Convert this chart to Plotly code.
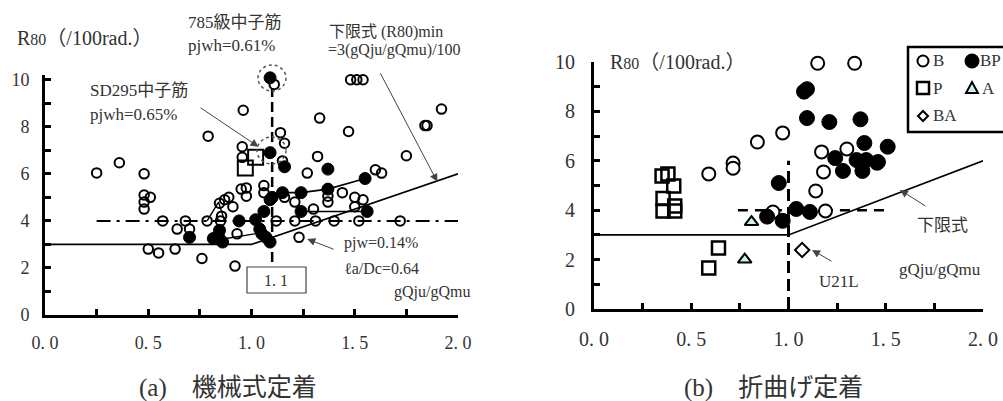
import plotly.graph_objects as go

W, H = 1003, 401
FONT = "Liberation Serif, Noto Sans CJK JP, serif"
TXT = "#333333"

# ---------------- data: (a) 機械式定着 ----------------
a_open_x = [0.25, 0.36, 0.48, 0.48, 0.48, 0.48, 0.51, 0.57, 0.50, 0.55, 0.63, 0.64, 0.68, 0.70,
            0.76, 0.785, 0.79, 0.845, 0.87, 0.89, 0.91, 0.855, 0.85, 0.95, 0.975, 0.975,
            0.92, 0.93, 0.96, 0.955, 0.955, 1.06, 1.06, 1.11, 1.12, 1.14, 1.16, 1.15, 1.16, 1.21,
            1.21, 1.23, 1.27, 1.31, 1.30, 1.32, 1.33, 1.37, 1.37, 1.40, 1.44, 1.47, 1.48, 1.51,
            1.54, 1.50, 1.54, 1.50, 1.52, 1.60, 1.63, 1.72, 1.75, 1.84, 1.85, 1.92, 2.01]
a_open_y = [6.04, 6.47, 6.00, 5.10, 4.80, 4.50, 5.00, 4.00, 2.80, 2.64, 2.80, 3.65, 4.00, 3.65,
            2.40, 4.00, 7.60, 4.75, 4.90, 5.00, 4.60, 4.20, 4.00, 5.35, 5.40, 5.05,
            2.08, 3.45, 8.70, 7.15, 6.70, 5.50, 5.20, 9.80, 4.00, 7.75, 7.30, 6.55, 5.00, 4.00,
            4.80, 3.30, 6.03, 4.00, 4.50, 6.74, 8.37, 5.05, 4.80, 4.00, 5.20, 7.80, 10.0, 10.0,
            10.0, 5.00, 4.90, 4.60, 4.00, 6.17, 6.03, 4.00, 6.77, 8.05, 8.05, 8.75, 5.00]
a_fill_x = [0.70, 0.815, 0.845, 0.86, 0.84, 0.94, 1.02, 1.04, 1.06, 1.09, 1.07, 1.09, 1.05, 1.10,
            1.15, 1.24, 1.37, 1.55, 1.37, 1.16, 1.09, 1.09, 1.24, 1.56]
a_fill_y = [3.30, 3.25, 3.60, 3.10, 3.35, 4.00, 4.05, 3.65, 4.40, 4.90, 3.30, 3.10, 3.45, 5.00,
            5.20, 5.20, 5.35, 5.80, 6.20, 6.30, 6.90, 10.08, 4.40, 4.40]
a_sq_x = [1.02, 0.97]
a_sq_y = [6.70, 6.25]
a_link1_x = [1.09, 1.15, 1.24, 1.37, 1.55]
a_link1_y = [5.00, 5.20, 5.20, 5.35, 5.80]
a_link2_x = [1.24, 1.56]
a_link2_y = [4.40, 4.40]
a_link3_x = [0.785, 0.84, 0.87]
a_link3_y = [4.00, 4.80, 4.00]
a_link4_x = [0.84, 1.05]
a_link4_y = [3.20, 3.50]
a_limit_x = [0.0, 1.0, 2.0]
a_limit_y = [3.0, 3.0, 6.0]
a_ref_x = [0.25, 2.0]
a_ref_y = [4.0, 4.0]
a_v_x = [1.1, 1.1]
a_v_y = [2.25, 9.65]

# ---------------- data: (b) 折曲げ定着 ----------------
b_open_x = [0.59, 0.715, 0.715, 0.84, 0.97, 1.15, 1.34, 1.17, 1.30, 1.18, 1.14, 1.19, 1.455, 0.92]
b_open_y = [5.47, 5.91, 5.70, 6.76, 7.13, 9.95, 9.95, 6.36, 6.48, 5.55, 4.78, 3.97, 5.90, 3.93]
b_fill_x = [1.08, 1.095, 1.095, 1.21, 1.37, 1.39, 1.51, 1.24, 1.35, 1.40, 1.46, 1.28, 1.38,
            0.95, 1.04, 1.11, 0.89, 0.97]
b_fill_y = [8.80, 8.90, 7.73, 7.57, 7.68, 6.72, 6.57, 6.11, 6.03, 6.03, 5.95, 5.59, 5.59,
            5.10, 4.05, 3.93, 3.74, 3.57]
b_sq_x = [0.35, 0.38, 0.41, 0.355, 0.355, 0.415, 0.415, 0.64, 0.59]
b_sq_y = [5.38, 5.47, 4.98, 4.47, 3.97, 4.17, 3.97, 2.47, 1.66]
b_tri_x = [0.81, 0.775]
b_tri_y = [3.52, 2.00]
b_dia_x = [1.07]
b_dia_y = [2.39]
b_limit_x = [0.0, 1.0, 2.0]
b_limit_y = [3.0, 3.0, 6.0]
b_ref_x = [0.74, 1.52]
b_ref_y = [4.0, 4.0]
b_v_x = [1.0, 1.0]
b_v_y = [0.0, 6.0]

x_tick_vals = [0, 0.25, 0.5, 0.75, 1.0, 1.25, 1.5, 1.75, 2.0]
x_tick_text = ["0. 0", "", "0. 5", "", "1. 0", "", "1. 5", "", "2. 0"]
y_tick_vals = list(range(0, 11))
y_tick_text = ["0", "", "2", "", "4", "", "6", "", "8", "", "10"]


def px(x):
    return x / W


def py(y):
    return 1 - y / H


fig = go.Figure()


def line(x, y, xa, ya, width=1.6, dash="solid", color="black"):
    fig.add_trace(go.Scatter(x=x, y=y, xaxis=xa, yaxis=ya, mode="lines",
                             line=dict(color=color, width=width, dash=dash),
                             showlegend=False, hoverinfo="skip", cliponaxis=False))


def pts(x, y, xa, ya, symbol, size, fill="rgba(0,0,0,0)", lw=2):
    fig.add_trace(go.Scatter(x=x, y=y, xaxis=xa, yaxis=ya, mode="markers",
                             marker=dict(symbol=symbol, size=size, color=fill,
                                         line=dict(color="black", width=lw)),
                             showlegend=False, hoverinfo="skip", cliponaxis=False))


# (a)
line(a_limit_x, a_limit_y, "x", "y", 1.6)
line(a_ref_x, a_ref_y, "x", "y", 2, "14px,6px,3px,6px")
line(a_v_x, a_v_y, "x", "y", 2.5, "10px,5px")
line(a_link1_x, a_link1_y, "x", "y", 1.6)
line(a_link2_x, a_link2_y, "x", "y", 1.6)
line(a_link3_x, a_link3_y, "x", "y", 1.4)
line(a_link4_x, a_link4_y, "x", "y", 1.4)
pts(a_open_x, a_open_y, "x", "y", "circle", 9.5, "rgba(0,0,0,0)", 2)
pts(a_sq_x, a_sq_y, "x", "y", "square", 15, "rgba(0,0,0,0)", 2)
pts(a_fill_x, a_fill_y, "x", "y", "circle", 12, "black", 1)

# (b)
line(b_limit_x, b_limit_y, "x2", "y2", 1.6)
line(b_ref_x, b_ref_y, "x2", "y2", 2.5, "10px,7px")
line(b_v_x, b_v_y, "x2", "y2", 3, "12px,6px")
pts(b_sq_x, b_sq_y, "x2", "y2", "square", 13, "rgba(0,0,0,0)", 2.5)
pts(b_open_x, b_open_y, "x2", "y2", "circle", 13, "white", 2)
pts(b_fill_x, b_fill_y, "x2", "y2", "circle", 15, "black", 1)
pts(b_tri_x, b_tri_y, "x2", "y2", "triangle-up", 12, "#cdeef2", 2)
pts(b_dia_x, b_dia_y, "x2", "y2", "diamond", 11, "white", 2)

axis_common = dict(showgrid=False, zeroline=False, showline=True, linecolor="black",
                   linewidth=3, ticks="inside", ticklen=6, tickwidth=3, tickcolor="black",
                   tickmode="array", fixedrange=True, automargin=False)

fig.update_layout(
    template="none",
    width=W, height=H, margin=dict(l=0, r=0, t=0, b=0, pad=0),
    paper_bgcolor="white", plot_bgcolor="white", showlegend=False,
    xaxis=dict(domain=[px(45), px(458)], range=[0, 2.0], tickvals=x_tick_vals,
               ticktext=x_tick_text, anchor="y", ticklabelstandoff=9,
               tickfont=dict(family=FONT, size=18, color=TXT), **axis_common),
    yaxis=dict(domain=[py(315), py(75)], range=[0, 10.2], tickvals=y_tick_vals,
               ticktext=y_tick_text, anchor="x", ticklabelstandoff=9,
               tickfont=dict(family=FONT, size=18, color=TXT), **axis_common),
    xaxis2=dict(domain=[px(594), px(983)], range=[0, 2.0], tickvals=x_tick_vals,
                ticktext=x_tick_text, anchor="y2", ticklabelstandoff=10,
                tickfont=dict(family=FONT, size=20, color=TXT), **axis_common),
    yaxis2=dict(domain=[py(309), py(62)], range=[0, 10], tickvals=y_tick_vals,
                ticktext=y_tick_text, anchor="x2", ticklabelstandoff=12,
                tickfont=dict(family=FONT, size=20, color=TXT), **axis_common),
)

ann = []


def text(x, y, s, size, anchor="left", color=TXT):
    ann.append(dict(x=px(x), y=py(y), xref="paper", yref="paper", text=s, showarrow=False,
                    xanchor=anchor, yanchor="middle",
                    font=dict(family=FONT, size=size, color=color)))


def arrow(xa, ya, tx, ty, ax, ay):
    ann.append(dict(x=tx, y=ty, xref=xa, yref=ya, ax=ax, ay=ay, axref=xa, ayref=ya,
                    text="", showarrow=True, arrowhead=2, arrowsize=1.6, arrowwidth=1,
                    arrowcolor="#444444", standoff=0))


R80 = "R<span style='font-size:16px'>80</span>（/100rad.）"
# (a) texts
text(15, 38, R80, 20)
text(186, 22, "785級中子筋", 17)
text(186, 46, "pjwh=0.61%", 17)
text(88, 90, "SD295中子筋", 17)
text(88, 114, "pjwh=0.65%", 17)
text(327, 32, "下限式 (R80)min", 16)
text(326, 50, "=3(gQju/gQmu)/100", 16)
text(342, 243, "pjw=0.14%", 16)
text(342, 268, "ℓa/Dc=0.64", 16)
text(392, 292, "gQju/gQmu", 16)
text(276, 280, "1. 1", 16, "center")
text(228, 388, "(a)　機械式定着", 25, "center")
arrow("x", "y", 1.034, 10.43, 0.94, 10.98)
arrow("x", "y", 1.034, 7.15, 0.746, 8.85)
arrow("x", "y", 1.90, 5.66, 1.62, 10.34)
arrow("x", "y", 1.27, 3.23, 1.405, 2.77)

# (b) texts
text(608, 62, R80, 20)
text(915, 225, "下限式", 17)
text(897, 269, "gQju/gQmu", 17)
text(817, 281, "U21L", 17)
text(773, 388, "(b)　折曲げ定着", 25, "center")
arrow("x2", "y2", 1.573, 4.82, 1.712, 4.13)
arrow("x2", "y2", 1.121, 2.39, 1.229, 1.90)

# legend labels
text(931, 61, "B", 17)
text(978, 61, "BP", 17)
text(931, 88, "P", 17)
text(980, 88, "A", 17)
text(931, 116, "BA", 17)
fig.update_layout(annotations=ann)

shapes = []
# dotted highlight circles in (a)
shapes.append(dict(type="circle", xref="paper", yref="paper", x0=px(258), x1=px(286),
                   y0=py(91), y1=py(65), line=dict(color="#555555", width=1.5, dash="dot")))
shapes.append(dict(type="circle", xref="paper", yref="paper", x0=px(257), x1=px(286),
                   y0=py(164), y1=py(137), line=dict(color="#555555", width=1.5, dash="dot")))
# box around "1.1"
shapes.append(dict(type="rect", xref="paper", yref="paper", x0=px(247), x1=px(306),
                   y0=py(293), y1=py(267), line=dict(color="#444444", width=1.2)))
# legend box
shapes.append(dict(type="rect", xref="paper", yref="paper", x0=px(908), x1=px(1012),
                   y0=py(132), y1=py(47), line=dict(color="black", width=2.5),
                   fillcolor="white", layer="below"))


def sym_circle(cx, cy, r, fill):
    shapes.append(dict(type="circle", xref="paper", yref="paper", x0=px(cx - r), x1=px(cx + r),
                       y0=py(cy + r), y1=py(cy - r), fillcolor=fill,
                       line=dict(color="black", width=2)))


sym_circle(923, 61, 5.5, "white")
sym_circle(972, 61, 6.5, "black")
shapes.append(dict(type="rect", xref="paper", yref="paper", x0=px(917), x1=px(929),
                   y0=py(94), y1=py(82), line=dict(color="black", width=2.5)))
shapes.append(dict(type="path", xref="paper", yref="paper",
                   path=f"M {px(966)},{py(93)} L {px(978)},{py(93)} L {px(972)},{py(82)} Z",
                   fillcolor="#cdeef2", line=dict(color="black", width=2)))
shapes.append(dict(type="path", xref="paper", yref="paper",
                   path=f"M {px(918)},{py(116)} L {px(923)},{py(111)} L {px(928)},{py(116)} L {px(923)},{py(121)} Z",
                   fillcolor="white", line=dict(color="black", width=2)))
fig.update_layout(shapes=shapes)

# remove the page's default 8 px body margin so the 1003x401 figure fills the window exactly
fig.write_html("out.html",
               config={"displayModeBar": False, "staticPlot": True},
               post_script="document.body.style.margin='0';"
                           "document.documentElement.style.overflow='hidden';")
